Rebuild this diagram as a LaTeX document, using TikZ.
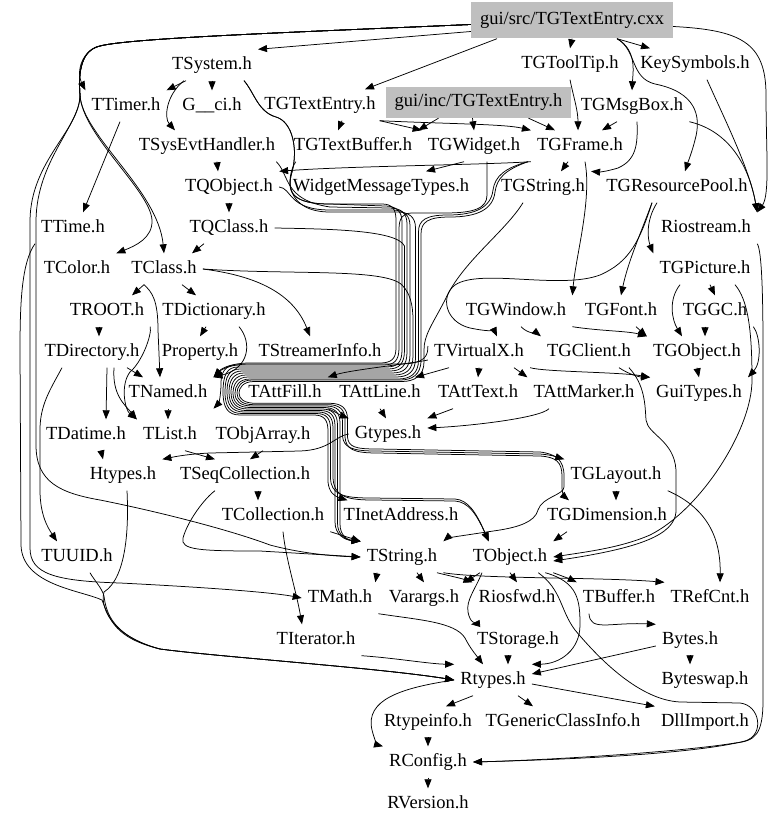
\documentclass[tikz,border=0pt]{standalone}
\usepackage{fontspec}
\setmainfont{Liberation Serif}
\usetikzlibrary{arrows.meta}
\definecolor{boxgray}{RGB}{191,191,191}
\begin{document}
\begin{tikzpicture}[x=1pt,y=-1pt,
  n/.style={inner xsep=6pt,inner ysep=7pt,text height=13pt,text depth=4pt,font=\fontsize{18.5}{20}\selectfont},
  gbox/.style={n,fill=boxgray,inner sep=0pt},
  e/.style={draw,line width=0.75pt,-{Triangle[length=9pt,width=7pt]}}]
\fill[white] (0,0) rectangle (779,826);
\useasboundingbox (0,0) rectangle (779,826);
% ---------------- nodes
\node[gbox,minimum width=202pt,minimum height=36pt] (cxx) at (572,20.5) {gui/src/TGTextEntry.cxx};
\node[gbox,minimum width=185pt,minimum height=31pt] (guiinc) at (478.5,102.5) {gui/inc/TGTextEntry.h};
\node[n] (TSystem) at (212,65) {TSystem.h};
\node[n] (TGToolTip) at (570,64) {TGToolTip.h};
\node[n] (KeySymbols) at (695,64) {KeySymbols.h};
\node[n] (TTimer) at (126,106) {TTimer.h};
\node[n] (Gci) at (212,106) {G\_\_ci.h};
\node[n] (TGTextEntryH) at (320,105) {TGTextEntry.h};
\node[n] (TGMsgBox) at (632,106) {TGMsgBox.h};
\node[n] (TSysEvtHandler) at (207,146) {TSysEvtHandler.h};
\node[n] (TGTextBuffer) at (353,146) {TGTextBuffer.h};
\node[n] (TGWidget) at (474,146) {TGWidget.h};
\node[n] (TGFrame) at (580,146) {TGFrame.h};
\node[n] (TQObject) at (229,187) {TQObject.h};
\node[n] (WidgetMessageTypes) at (381,187) {WidgetMessageTypes.h};
\node[n] (TGString) at (543,187) {TGString.h};
\node[n] (TGResourcePool) at (677,187) {TGResourcePool.h};
\node[n] (TTime) at (73,228) {TTime.h};
\node[n] (TQClass) at (229,228) {TQClass.h};
\node[n] (Riostream) at (706,228) {Riostream.h};
\node[n] (TColor) at (77,269) {TColor.h};
\node[n] (TClass) at (164,269) {TClass.h};
\node[n] (TGPicture) at (705,269) {TGPicture.h};
\node[n] (TROOT) at (107,311) {TROOT.h};
\node[n] (TDictionary) at (214,311) {TDictionary.h};
\node[n] (TGWindow) at (516,311) {TGWindow.h};
\node[n] (TGFont) at (621,311) {TGFont.h};
\node[n] (TGGC) at (715,311) {TGGC.h};
\node[n] (TDirectory) at (92,352) {TDirectory.h};
\node[n] (Property) at (200,352) {Property.h};
\node[n] (TStreamerInfo) at (320,352) {TStreamerInfo.h};
\node[n] (TVirtualX) at (479,352) {TVirtualX.h};
\node[n] (TGClient) at (589,352) {TGClient.h};
\node[n] (TGObject) at (697,352) {TGObject.h};
\node[n] (TNamed) at (168,393) {TNamed.h};
\node[n] (TAttFill) at (285,393) {TAttFill.h};
\node[n] (TAttLine) at (380,393) {TAttLine.h};
\node[n] (TAttText) at (478,393) {TAttText.h};
\node[n] (TAttMarker) at (584,393) {TAttMarker.h};
\node[n] (GuiTypes) at (699,393) {GuiTypes.h};
\node[n] (TDatime) at (86,435) {TDatime.h};
\node[n] (TList) at (170,435) {TList.h};
\node[n] (TObjArray) at (263,435) {TObjArray.h};
\node[n] (Gtypes) at (388,434) {Gtypes.h};
\node[n] (Htypes) at (123,475) {Htypes.h};
\node[n] (TSeqCollection) at (245,475) {TSeqCollection.h};
\node[n] (TGLayout) at (616,475) {TGLayout.h};
\node[n] (TCollection) at (273,516) {TCollection.h};
\node[n] (TInetAddress) at (401,516) {TInetAddress.h};
\node[n] (TGDimension) at (607,516) {TGDimension.h};
\node[n] (TUUID) at (77,557) {TUUID.h};
\node[n] (TString) at (402,557) {TString.h};
\node[n] (TObject) at (510,557) {TObject.h};
\node[n] (TMath) at (340,598) {TMath.h};
\node[n] (Varargs) at (424,598) {Varargs.h};
\node[n] (Riosfwd) at (517,598) {Riosfwd.h};
\node[n] (TBuffer) at (619,598) {TBuffer.h};
\node[n] (TRefCnt) at (710,598) {TRefCnt.h};
\node[n] (TIterator) at (316,640) {TIterator.h};
\node[n] (TStorage) at (518,640) {TStorage.h};
\node[n] (Bytes) at (690,640) {Bytes.h};
\node[n] (Rtypes) at (493,680) {Rtypes.h};
\node[n] (Byteswap) at (705,680) {Byteswap.h};
\node[n] (Rtypeinfo) at (428,722) {Rtypeinfo.h};
\node[n] (TGenericClassInfo) at (563,722) {TGenericClassInfo.h};
\node[n] (DllImport) at (705,722) {DllImport.h};
\node[n] (RConfig) at (428,762) {RConfig.h};
\node[n] (RVersion) at (428,804) {RVersion.h};
% ---------------- top edges
\draw[e] ([yshift=-4pt]cxx.west) .. controls (300,32) and (130,38) .. (100,46) .. controls (82,50) and (76,72) .. (TTimer.north west);
\draw[e] ([yshift=-4pt]cxx.west) .. controls (300,32) and (130,38) .. (100,46) .. controls (82,50) and (78,70) .. (80,95) .. controls (82,135) and (158,190) .. (TClass.north);
\draw[e] ([yshift=-4pt]cxx.west) .. controls (300,32) and (130,38) .. (100,46) .. controls (82,50) and (78,70) .. (80,95) .. controls (82,135) and (150,190) .. (152,220) .. controls (153,238) and (135,246) .. (TColor.north east);
\draw[e] ([yshift=-4pt]cxx.west) .. controls (300,32) and (130,38) .. (100,46) .. controls (82,50) and (78,70) .. (80,95) .. controls (80,130) and (31,160) .. (30,220) -- (30,548) .. controls (30,574) and (55,581) .. (120,583) .. controls (200,587) and (270,592) .. (TMath.west);
\draw[e] ([yshift=-4pt]cxx.west) .. controls (300,32) and (130,38) .. (100,46) .. controls (82,50) and (78,70) .. (80,95) .. controls (80,125) and (37,160) .. (36,220) -- (36,445) .. controls (36,482) and (60,493) .. (100,500) .. controls (160,512) and (230,530) .. (270,545) .. controls (300,553) and (330,556) .. (TString.west);
\draw[e] ([yshift=-11pt]cxx.west) -- (TSystem.north east);
\draw[e] ([xshift=-75pt]cxx.south) -- ([xshift=45pt]TGTextEntryH.north);
\draw[e] (cxx.south) -- (TGToolTip.north);
\draw[e] ([xshift=45pt]cxx.south) -- ([xshift=-45pt]KeySymbols.north);
\draw[e] ([xshift=45pt]cxx.south) .. controls (637,50) and (633,72) .. (TGMsgBox.north);
\draw[e] ([xshift=45pt]cxx.south) .. controls (637,50) and (630,78) .. (655,84) .. controls (695,92) and (702,115) .. (695,140) .. controls (692,152) and (688,162) .. ([xshift=8pt]TGResourcePool.north);
\draw[e] ([yshift=-6pt]cxx.east) .. controls (740,30) and (766,42) .. (766,95) .. controls (766,150) and (770,195) .. (Riostream.north east);
\draw[e] ([xshift=12pt]KeySymbols.south) .. controls (725,120) and (750,170) .. (Riostream.north east);
\draw[e] (TGMsgBox.south east) .. controls (725,130) and (748,160) .. (Riostream.north east);
\draw[e] ([xshift=-26pt]TSystem.south) -- (TTimer.north east);
\draw[e] (TSystem.south) -- (Gci.north);
\draw[e] ([xshift=-28pt]TSystem.south) .. controls (166,95) and (164,118) .. ([xshift=-32pt]TSysEvtHandler.north);
\draw[e] ([xshift=-6pt]TTimer.south) -- ([xshift=10pt]TTime.north);
% ---------------- TGTextEntry group
\draw[e] ([xshift=22pt]TGTextEntryH.south) -- ([xshift=-15pt]TGTextBuffer.north);
\draw[e] ([xshift=-2pt]TGTextEntryH.south east) -- (TGWidget.north west);
\draw[e] ([xshift=-2pt]TGTextEntryH.south east) .. controls (450,124) and (505,124) .. (TGFrame.north west);
\draw[e] ([xshift=-40pt]guiinc.south) -- (TGTextBuffer.north east);
\draw[e] ([xshift=-6pt]guiinc.south) -- (TGWidget.north);
\draw[e] ([xshift=50pt]guiinc.south) -- ([xshift=-25pt]TGFrame.north);
\draw[e] (TGToolTip.south) .. controls (573,95) and (578,110) .. ([xshift=-2pt]TGFrame.north);
\draw[e] ([xshift=-15pt]TGMsgBox.south) -- ([xshift=22pt]TGFrame.north);
\draw[e] ([xshift=5pt]TGMsgBox.south) .. controls (638,145) and (636,160) .. (618,168) .. controls (605,172) and (598,172) .. (TGString.north east);
% ---------------- second rows
\draw[e] ([xshift=10pt]TSysEvtHandler.south) -- ([xshift=-11pt]TQObject.north);
\draw[e] (TQObject.south) -- (TQClass.north);
\draw[e] (TGFrame.south west) .. controls (480,165) and (350,166) .. (TQObject.north east);
\draw[e] ([xshift=-10pt]TGWidget.south) -- ([xshift=45pt]WidgetMessageTypes.north);
\draw[e] ([xshift=-12pt]TGFrame.south) -- ([xshift=18pt]TGString.north);
\draw[e] ([xshift=5pt]TGFrame.south) .. controls (592,200) and (576,255) .. (TGWindow.north east);
\draw[e] ([xshift=-25pt]TGResourcePool.south) .. controls (640,235) and (628,262) .. (TGFont.north);
\draw[e] ([xshift=-25pt]TGResourcePool.south) .. controls (640,240) and (630,262) .. (600,275) .. controls (560,290) and (480,268) .. (455,285) .. controls (440,296) and (445,322) .. (470,328) .. controls (485,331) and (495,332) .. ([xshift=18pt]TVirtualX.north);
\draw[e] ([xshift=-20pt]TGResourcePool.south) .. controls (645,222) and (648,240) .. (TGPicture.north west);
% ---------------- right cluster
\draw[e] ([xshift=5pt]TGPicture.south) -- (TGGC.north);
\draw[e] ([xshift=-25pt]TGPicture.south) .. controls (668,300) and (672,320) .. ([xshift=-15pt]TGObject.north);
\draw[e] ([xshift=30pt]TGPicture.south) .. controls (748,300) and (752,330) .. (752,380) .. controls (752,430) and (700,510) .. (650,535) .. controls (620,548) and (585,552) .. (TObject.east);
\draw[e] ([xshift=-10pt]TGGC.south) -- ([xshift=8pt]TGObject.north);
\draw[e] (TGGC.south east) .. controls (760,335) and (762,362) .. (GuiTypes.north east);
\draw[e] (TGObject.south) -- (GuiTypes.north);
\draw[e] ([xshift=15pt]TGFont.south) -- (TGObject.north west);
\draw[e] (TGWindow.south east) .. controls (600,331) and (628,331) .. (TGObject.north west);
\draw[e] ([xshift=5pt]TGWindow.south) .. controls (528,334) and (538,334) .. (TGClient.north west);
\draw[e] ([xshift=30pt]TGClient.south) .. controls (630,375) and (640,377) .. (GuiTypes.north west);
\draw[e] ([xshift=40pt]TGClient.south) .. controls (645,385) and (645,405) .. (646,420) .. controls (648,435) and (674,440) .. (676,470) -- (676,512) .. controls (674,535) and (640,548) .. ([yshift=-4pt]TObject.east);
\draw[e] (TVirtualX.south east) .. controls (545,372) and (620,372) .. (GuiTypes.north west);
\draw[e] ([xshift=35pt]TVirtualX.south) -- (TAttMarker.north west);
\draw[e] (TVirtualX.south) -- (TAttText.north);
\draw[e] ([xshift=-30pt]TVirtualX.south) -- ([xshift=35pt]TAttLine.north);
\draw[e] ([yshift=-8pt]TVirtualX.west) .. controls (415,363) and (350,370) .. (TAttFill.north east);
\draw[e] (TAttFill.south east) .. controls (336,412) and (340,415) .. (Gtypes.north west);
\draw[e] (TAttLine.south) -- ([xshift=-2pt]Gtypes.north);
\draw[e] ([xshift=-25pt]TAttText.south) -- (Gtypes.north east);
\draw[e] ([xshift=-35pt]TAttMarker.south) .. controls (540,418) and (470,426) .. ([yshift=6pt]Gtypes.east);
\draw[e] (Gtypes.west) .. controls (335,436) and (330,450) .. (300,451) -- (210,453) .. controls (190,454) and (178,456) .. (Htypes.north east);
% ---------------- left middle
\draw[e] ([xshift=-25pt]TQClass.south) -- ([xshift=28pt]TClass.north);
\draw[e] ([xshift=-20pt]TClass.south) -- ([xshift=25pt]TROOT.north);
\draw[e] ([xshift=-20pt]TClass.south) .. controls (152,292) and (158,300) .. (158,330) -- ([xshift=-8pt]TNamed.north);
\draw[e] ([xshift=18pt]TClass.south) -- ([xshift=-18pt]TDictionary.north);
\draw[e] (TClass.east) .. controls (250,275) and (292,290) .. ([xshift=-10pt]TStreamerInfo.north);
\draw[e] ([xshift=-8pt]TDictionary.south) -- (Property.north);
\draw[e] ([xshift=25pt]TDictionary.south) .. controls (252,342) and (250,368) .. (TNamed.north east);
\draw[e] ([xshift=-8pt]TROOT.south) -- ([xshift=7pt]TDirectory.north);
\draw[e] (TROOT.south east) .. controls (152,335) and (142,362) .. (130,372) .. controls (120,385) and (125,410) .. (TList.north west);
\draw[e] ([xshift=15pt]TDirectory.south) -- ([xshift=20pt]TDatime.north);
\draw[e] ([xshift=22pt]TDirectory.south) .. controls (112,395) and (125,405) .. (TList.north west);
\draw[e] ([xshift=35pt]TDirectory.south) -- ([xshift=-25pt]TNamed.north);
\draw[e] ([xshift=-30pt]TDirectory.south) .. controls (50,390) and (40,405) .. (40,430) -- (40,490) .. controls (40,515) and (48,528) .. ([xshift=-20pt]TUUID.north);
\draw[e] (TNamed.south) -- ([xshift=-2pt]TList.north);
\draw[e] ([xshift=15pt]TList.south) -- ([xshift=-30pt]TSeqCollection.north);
\draw[e] (TObjArray.south) -- ([xshift=5pt]TSeqCollection.north);
\draw[e] ([xshift=15pt]TDatime.south) -- ([xshift=-20pt]Htypes.north);
\draw[e] ([xshift=13pt]TSeqCollection.south) -- ([xshift=-15pt]TCollection.north);
\draw[e] ([xshift=-30pt]TSeqCollection.south) .. controls (205,498) and (188,520) .. (183,538) .. controls (180,550) and (200,551) .. (260,551) -- (TString.west);
\draw[e] ([xshift=10pt]TCollection.south) .. controls (286,560) and (296,590) .. ([xshift=-14pt]TIterator.north);
\draw[e] (TCollection.south east) -- (TString.north west);
% ---------------- into Rtypes from the left
\draw[e] (TTime.south west) .. controls (22,262) and (20,300) .. (20,350) -- (21,545) .. controls (22,585) and (80,590) .. (102,600) .. controls (110,620) and (115,638) .. (160,649) .. controls (220,657) and (380,668) .. (Rtypes.west);
\draw[e] ([xshift=4pt]Htypes.south) .. controls (129,530) and (126,578) .. (104,592) .. controls (100,606) and (110,636) .. (160,649) .. controls (220,657) and (380,668) .. (Rtypes.west);
\draw[e] ([xshift=13pt]TUUID.south) .. controls (94,580) and (102,588) .. (104,596) .. controls (106,612) and (112,636) .. (160,649) .. controls (220,657) and (380,668) .. (Rtypes.west);
\draw[e] (TIterator.south east) .. controls (395,658) and (430,664) .. (Rtypes.north west);
\draw[e] (TMath.south east) .. controls (420,620) and (455,622) .. (465,638) .. controls (470,648) and (476,655) .. ([xshift=-10pt]Rtypes.north);
% ---------------- lower part
\draw[e] ([xshift=-25pt]TString.south) -- ([xshift=-3pt]TMath.north east);
\draw[e] ([xshift=15pt]TString.south) -- (Varargs.north);
\draw[e] ([xshift=35pt]TString.south) .. controls (450,576) and (460,578) .. (Riosfwd.north west);
\draw[e] (TString.south east) .. controls (480,579) and (600,577) .. (TRefCnt.north west);
\draw[e] (TObject.south) -- (Riosfwd.north);
\draw[e] ([xshift=-30pt]TObject.south) -- (Varargs.north east);
\draw[e] (TObject.south east) .. controls (562,576) and (570,579) .. (TBuffer.north west);
\draw[e] ([xshift=-28pt]TObject.south) .. controls (475,590) and (466,600) .. (468,612) .. controls (470,622) and (474,624) .. (TStorage.north west);
\draw[e] ([xshift=-8pt]TObject.south east) .. controls (578,582) and (580,600) .. (580,625) .. controls (580,650) and (560,664) .. (Rtypes.north east);
\draw[e] ([xshift=-15pt]TObject.south east) .. controls (562,590) and (560,610) .. (575,630) .. controls (600,660) and (640,700) .. (680,702) -- (740,703) .. controls (760,705) and (765,735) .. (745,741) .. controls (690,755) and (550,760) .. (RConfig.east);
\draw[e] (Riostream.south east) .. controls (762,250) and (763,300) .. (763,350) -- (763,700) .. controls (763,735) and (755,741) .. (735,743) .. controls (680,752) and (550,760) .. (RConfig.east);
\draw[e] (TGLayout.south) -- ([xshift=9pt]TGDimension.north);
\draw[e] (TGLayout.south east) .. controls (700,505) and (721,530) .. ([xshift=10pt]TRefCnt.north);
\draw[e] ([xshift=-40pt]TGDimension.south) -- (TObject.north east);
\draw[e] ([xshift=-30pt]TBuffer.south) .. controls (590,632) and (610,622) .. (Bytes.north west);
\draw[e] (Bytes.south) -- ([xshift=-15pt]Byteswap.north);
\draw[e] ([yshift=-6pt]Bytes.west) -- ([yshift=6pt]Rtypes.east);
\draw[e] ([xshift=-10pt]TStorage.south) -- ([xshift=15pt]Rtypes.north);
\draw[e] ([xshift=-20pt]Rtypes.south) -- ([xshift=18pt]Rtypeinfo.north);
\draw[e] ([xshift=25pt]Rtypes.south) -- ([xshift=-30pt]TGenericClassInfo.north);
\draw[e] ([yshift=-4pt]Rtypes.east) -- (DllImport.north west);
\draw[e] (Rtypes.west) .. controls (400,688) and (365,700) .. (372,730) .. controls (375,742) and (378,745) .. (RConfig.north west);
\draw[e] (Rtypeinfo.south) -- (RConfig.north);
\draw[e] (RConfig.south) -- (RVersion.north);
% ---------------- main trunk bundle
% lane 0
\draw[e] ([xshift=32pt]TSystem.south) .. controls (254,92) and (258,112) .. (276,117) .. controls (293,122) and (298,150) .. (292,172) .. controls (286,192) and (292,204) .. (330,204) -- (382,204) .. controls (392,204) and (396,209) .. (396,220) -- (396,348) .. controls (396,359) and (391,363) .. (380,363) -- (250,363) .. controls (232,363) and (222,368) .. (TNamed.north east);
% lane 1
\draw[e] ([xshift=13pt]TGWidget.south) -- (487,195) .. controls (487,208) and (475,213) .. (445,213) -- (412,213) .. controls (403,213) and (399,218) .. (399,229) -- (399,348) .. controls (399,361) and (394,365) .. (383,365) -- (236,365) .. controls (225,365) and (221,373) .. (221,383) .. controls (221,398) and (218,404) .. (TNamed.south east);
% lane 2
\draw[e] ([xshift=32pt]TSystem.south) .. controls (254,92) and (258,112) .. (276,117) .. controls (293,122) and (298,150) .. (292,172) .. controls (286,192) and (292,204) .. (330,204) -- (385,206) .. controls (396,206) and (402,211) .. (402,222) -- (402,350) .. controls (402,363) and (397,367) .. (386,367) -- (238,367) .. controls (227,367) and (223,375) .. (223,392) .. controls (223,408) and (228,415) .. (240,415) -- (314,415) .. controls (324,415) and (328,420) .. (328,431) -- (328,482) .. controls (329,492) and (334,496) .. ([xshift=10pt]TInetAddress.north west);
% lane 3
\draw[e] (TQClass.east) .. controls (330,229) and (397,230) .. (404.5,246) -- (404.5,350) .. controls (404.5,364) and (399,369) .. (388,369) -- (240,369) .. controls (229,369) and (225,377) .. (225,392) .. controls (225,407) and (230,413.5) .. (242,413.5) -- (316,413.5) .. controls (326,413.5) and (330.5,418) .. (330.5,429) -- (330.5,478) .. controls (331,494) and (342,498) .. (370,498) -- (455,499) .. controls (468,500) and (476,512) .. ([xshift=22pt]TObject.north west);
% lane 4
\draw[e] ([xshift=-5pt]TSysEvtHandler.south east) .. controls (290,175) and (283,200) .. (330,207) -- (389,208) .. controls (401,208) and (407,213) .. (407,224) -- (407,352) .. controls (407,366) and (401,371) .. (390,371) -- (242,371) .. controls (231,371) and (227,379) .. (227,392) .. controls (227,405) and (232,412) .. (244,412) -- (318,412) .. controls (328,412) and (333,417) .. (333,428) -- (333,478) .. controls (334,495) and (344,500) .. (372,500) -- (455,501) .. controls (468,502) and (476,513) .. ([xshift=22pt]TObject.north west);
% lane 5
\draw[e] (TQObject.east) .. controls (292,188) and (288,210) .. (330,210) -- (392,210) .. controls (404,210) and (410,215) .. (410,226) -- (410,354) .. controls (410,368) and (404,373) .. (392,373) -- (244,373) .. controls (233,373) and (229,381) .. (229,392) .. controls (229,404) and (234,410.5) .. (246,410.5) -- (320,410.5) .. controls (330,410.5) and (335,415) .. (335,426) -- (335,522) .. controls (335,535) and (345,540) .. (TString.north west);
% lane 6
\draw[e] (TClass.east) .. controls (290,275) and (385,268) .. (402,285) .. controls (410,293) and (413,305) .. (413,320) -- (413,356) .. controls (413,370) and (406,375) .. (394,375) -- (246,375) .. controls (235,375) and (231,383) .. (231,392) .. controls (231,403) and (236,409) .. (248,409) -- (322,409) .. controls (332,409) and (337.5,414) .. (337.5,425) -- (337.5,523) .. controls (337.5,535) and (346,540) .. (TString.north west);
% lane 7
\draw[e] ([xshift=8pt]TGTextBuffer.south west) .. controls (285,178) and (286,212) .. (330,212) -- (397,212) .. controls (409,212) and (415.5,217) .. (415.5,228) -- (415.5,358) .. controls (415.5,372) and (408,377) .. (396,377) -- (248,377) .. controls (237,377) and (233,385) .. (233,393) .. controls (233,402) and (238,407.5) .. (250,407.5) -- (324,407.5) .. controls (334,407.5) and (340,412) .. (340,423) -- (340,524) .. controls (340,536) and (348,540) .. (TString.north west);
% lane 8
\draw[e] ([xshift=-3pt]TGFrame.south west) .. controls (505,168) and (495,176) .. (493,190) .. controls (491,207) and (476,215) .. (448,215) .. controls (426,215) and (418.5,220) .. (418.5,232) -- (418.5,360) .. controls (418.5,374) and (410,379) .. (398,379) -- (250,379) .. controls (239,379) and (235,386) .. (235,393) .. controls (235,401) and (240,406) .. (252,406) -- (326,406) .. controls (337,406) and (342.5,411) .. (342.5,422) -- (342.5,436) .. controls (343.5,447) and (351,451) .. (375,451) -- (540,454) .. controls (553,455) and (560,458) .. (TGLayout.north west);
% lane 9
\draw[e] ([xshift=-3pt]TGFrame.south west) .. controls (505,170) and (497,178) .. (495,192) .. controls (493,209) and (478,217) .. (450,217) .. controls (428,217) and (421,222) .. (421,234) -- (421,360) .. controls (421,375) and (412,380) .. (400,380) -- (252,380) .. controls (241,380) and (237,387) .. (237,393) .. controls (237,400) and (242,404.7) .. (254,404.7) -- (328,404.7) .. controls (339,404.7) and (345,409) .. (345,420) -- (345,437) .. controls (346,449) and (353,453) .. (377,453) -- (540,456) .. controls (556,457) and (562,462) .. (562,476) -- (562,488) .. controls (562,494) and (565,497) .. ([xshift=28pt]TGDimension.north west);
% lane 10
\draw[e] ([xshift=-20pt]TGString.south) .. controls (505,232) and (462,262) .. (445,300) .. controls (432,325) and (424,335) .. (424,350) -- (424,362) .. controls (424,376) and (414,381.5) .. (402,381.5) -- (254,381.5) .. controls (243,381.5) and (239,388) .. (239,393) .. controls (239,399) and (244,403.3) .. (256,403.3) -- (330,403.3) .. controls (341,403.3) and (347.5,408) .. (347.5,419) -- (347.5,437) .. controls (348.5,447) and (355,449) .. (377,449) -- (540,452) .. controls (556,454) and (564,460) .. (564,476) -- (564,487) .. controls (564,495) and (542,497) .. (538,510) .. controls (535,522) and (518,527) .. (500,530) -- (460,536) .. controls (452,537) and (446,539) .. (TString.north east);
% TVirtualX joins the bundle
\draw[e] ([yshift=6pt]TVirtualX.west) .. controls (428,355) and (426,364) .. (400,364) -- (250,364) .. controls (232,364) and (222,369) .. (TNamed.north east);
\end{tikzpicture}
\end{document}
